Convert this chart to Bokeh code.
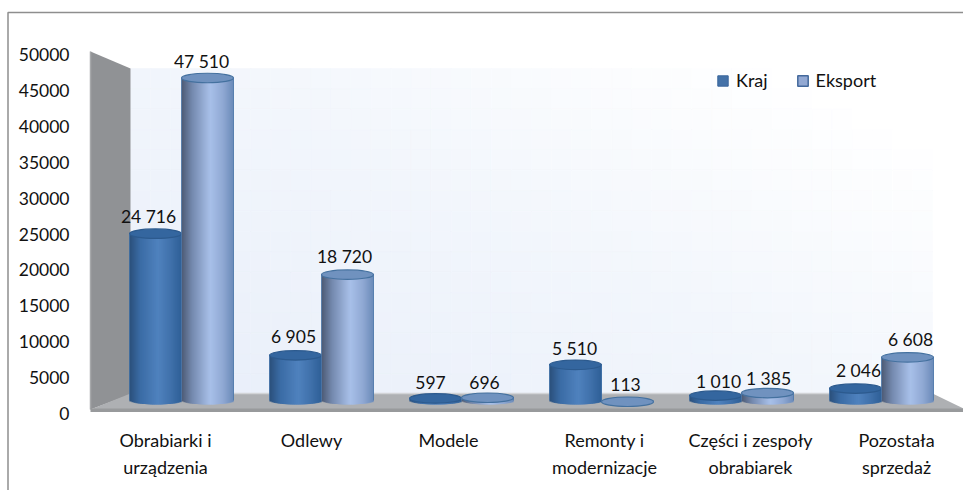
from bokeh.embed import file_html
from bokeh.resources import INLINE
from bokeh.plotting import figure
from bokeh.core.properties import value
from bokeh.models import (Range1d, LinearAxis, FixedTicker, Legend, LegendItem,
                          ColumnDataSource, BasicTickFormatter)

# ---- data ----
categories = ["Obrabiarki i\nurządzenia", "Odlewy", "Modele", "Remonty i\nmodernizacje",
              "Części i zespoły\nobrabiarek", "Pozostała\nsprzedaż"]
kraj = [24716, 6905, 597, 5510, 1010, 2046]
eksport = [47510, 18720, 696, 113, 1385, 6608]
kraj_labels = ["24 716", "6 905", "597", "5 510", "1 010", "2 046"]
eksport_labels = ["47 510", "18 720", "696", "113", "1 385", "6 608"]
y_ticks = list(range(0, 50001, 5000))

# ---- layout: page pixels ----
W, H = 963, 490
PX_L, PX_T = 0, 0
PX_R, PX_B = PX_L + W, PX_T + H
GROUP0, GROUP_STEP = 181.0, 140.0   # page x of the first group centre, group spacing
BAR_W_PX = 52.0
BASE_PX, BAR_SCALE = 402.0, 0.00683  # page y of value 0 for the columns, px per unit
AXIS0_PX, AXIS_SCALE = 413.0, 0.00718

label_x_px = [165, 311, 448, 604, 750, 896]
label_dx_k = [-7, -2, -5, -1, 3, 3]
label_dy_k = [-17, -19, -16, -16, -14, -18]
label_dx_e = [-6, -3, -3, -2, 1, 3]
label_dy_e = [-17, -18, -15, -17, -14.5, -18]

x_range = Range1d((PX_L - GROUP0) / GROUP_STEP, (PX_R - GROUP0) / GROUP_STEP)
y_range = Range1d((AXIS0_PX - PX_B) / AXIS_SCALE, (AXIS0_PX - PX_T) / AXIS_SCALE)

p = figure(width=W, height=H, x_range=x_range, y_range=y_range, x_axis_type=None, y_axis_type=None,
           output_backend="svg", toolbar_location=None, min_border=0,
           background_fill_color="white", border_fill_color="white", outline_line_color=None)
p.grid.visible = False
p.extra_y_ranges["bars"] = Range1d((BASE_PX - PX_B) / BAR_SCALE, (BASE_PX - PX_T) / BAR_SCALE)
p.extra_x_ranges["px"] = Range1d(PX_L, PX_R)
p.extra_y_ranges["px"] = Range1d(PX_B, PX_T)


def hexmix(c1, c2, t):
    a = [int(c1[i:i + 2], 16) for i in (1, 3, 5)]
    b = [int(c2[i:i + 2], 16) for i in (1, 3, 5)]
    return "#%02x%02x%02x" % tuple(round(a[i] + (b[i] - a[i]) * t) for i in range(3))


def ramp(stops, t):
    for (t0, c0), (t1, c1) in zip(stops, stops[1:]):
        if t <= t1:
            return hexmix(c0, c1, (t - t0) / (t1 - t0))
    return stops[-1][1]


# ---- chart frame chrome ----
PXR = dict(x_range_name="px", y_range_name="px")

# back wall, soft diagonal gradient
WALL_L, WALL_R, WALL_T, WALL_B = 130, 932, 68, 394
cols, rows = 40, 16
wl, wr, wb, wt, wc = [], [], [], [], []
for c in range(cols):
    for r in range(rows):
        u = (c + .5) / cols
        v = (r + .5) / rows
        t = min(1, max(0, 0.62 * u + 0.5 * (1 - v)))
        wl.append(WALL_L + (WALL_R - WALL_L) * c / cols)
        wr.append(WALL_L + (WALL_R - WALL_L) * (c + 1) / cols)
        wt.append(WALL_T + (WALL_B - WALL_T) * r / rows)
        wb.append(WALL_T + (WALL_B - WALL_T) * (r + 1) / rows)
        wc.append(ramp([(0, "#e8eef9"), (0.55, "#f2f6fc"), (1, "#ffffff")], t))
p.quad(left=wl, right=wr, top=wt, bottom=wb, fill_color=wc, line_color=wc, line_width=0.6, **PXR)

# left wall
p.patch([90, 130, 130, 90], [51, 68, 394, 409], fill_color="#909295", line_color=None, **PXR)
p.line([90, 90], [51, 409], line_color="#a6a8aa", line_width=1.5, **PXR)
# floor + front lip
p.patch([90, 130, 932, 963, 963, 90], [409, 393, 393, 408, 409, 409], fill_color="#aeb0b3", line_color=None, **PXR)
p.line([130, 932], [393, 393], line_color="#d2d4d7", line_width=1.5, **PXR)
p.quad(left=[90], right=[963], top=[408], bottom=[411.5], fill_color="#989a9c", line_color=None, **PXR)

# outer border of the chart area
p.line([7.5, 7.5, 963], [PX_B, 12, 12], line_color="#8e8e8e", line_width=1.5, **PXR)

# ---- columns ----
KRAJ_STOPS = [(0, "#2a4f7a"), (.2, "#3a6ba4"), (.55, "#4f82be"), (.8, "#3f70aa"), (1, "#2e5f96")]
EKSP_STOPS = [(0, "#4c5a74"), (.2, "#7388ad"), (.55, "#a8c0e9"), (.8, "#8fa8d3"), (1, "#6b8ab8")]
HALF = BAR_W_PX / GROUP_STEP / 2
N = 26
SIDE_PX, ARC_PX = 400.0, 4.0


def cylinders(vals, offset, stops, top_fill, top_line, edge):
    left, right, top, bottom, color = [], [], [], [], []
    for i, v in enumerate(vals):
        cx = i + offset
        for s in range(N):
            u0, u1 = s / N, min(1.0, (s + 2) / N)   # each strip runs under the next: no seams
            um = (s + .5) / N
            chord = max(0.0, 1 - (2 * um - 1) ** 2) ** .5
            left.append(cx - HALF + 2 * HALF * u0)
            right.append(cx - HALF + 2 * HALF * u1)
            top.append(v)
            bottom.append((BASE_PX - (SIDE_PX + ARC_PX * chord)) / BAR_SCALE)
            color.append(ramp(stops, um))
    p.quad(left=left, right=right, top=top, bottom=bottom, fill_color=color, line_color=None,
           y_range_name="bars")
    centers = [i + offset for i in range(len(vals))]
    p.ellipse(x=centers, y=vals, width=2 * HALF, height=9.5, height_units="screen",
              fill_color=top_fill, line_color=top_line, line_width=1.2, y_range_name="bars")
    for sgn in (-1, 1):
        p.segment(x0=[c + sgn * HALF for c in centers], x1=[c + sgn * HALF for c in centers],
                  y0=vals, y1=[(BASE_PX - SIDE_PX) / BAR_SCALE] * len(vals),
                  line_color=edge, line_width=1, line_alpha=.8, y_range_name="bars")


OFF = BAR_W_PX / GROUP_STEP / 2
cylinders(kraj, -OFF, KRAJ_STOPS, "#34669f", "#2c5a8e", "#3a6ba4")
cylinders(eksport, OFF, EKSP_STOPS, "#7092bf", "#44719f", "#4a76a8")

# ---- value labels ----
for vals, labs, off, dx, dy in ((kraj, kraj_labels, -OFF, label_dx_k, label_dy_k),
                                (eksport, eksport_labels, OFF, label_dx_e, label_dy_e)):
    src = ColumnDataSource(dict(x=[i + off for i in range(6)], y=vals, t=labs, dx=dx, dy=dy))
    p.text(x="x", y="y", text="t", x_offset="dx", y_offset="dy", source=src, text_align="center",
           text_baseline="middle", text_font=value("Lato"), text_font_size="17.5px", text_color="#111111",
           y_range_name="bars")

# ---- category labels ----
p.text(x=label_x_px, y=[428] * 6, text=categories, text_align="center", text_baseline="top",
       text_font=value("Lato"), text_font_size="18px", text_color="#111111", text_line_height=1.25, **PXR)

# ---- value axis, inside the full-bleed frame ----
axis = LinearAxis(ticker=FixedTicker(ticks=y_ticks), formatter=BasicTickFormatter(use_scientific=False),
                  axis_line_color=None, major_tick_line_color=None, minor_tick_line_color=None,
                  major_label_text_font="Lato", major_label_text_font_size="17.5px",
                  major_label_text_color="#111111", major_label_standoff=4,
                  fixed_location=(79 - GROUP0) / GROUP_STEP)
p.add_layout(axis, "left")

# ---- legend ----
nan = float("nan")
r_k = p.quad(left=[nan], right=[nan], top=[nan], bottom=[nan], fill_color="#4472a8", line_color="#3a669c", line_width=1)
r_e = p.quad(left=[nan], right=[nan], top=[nan], bottom=[nan], fill_color="#93a9d3", line_color="#44699c", line_width=1.5)
legend = Legend(items=[LegendItem(label="Kraj", renderers=[r_k]), LegendItem(label="Eksport", renderers=[r_e])],
                orientation="horizontal", location=(716, 399), background_fill_alpha=0, border_line_color=None,
                glyph_width=13, glyph_height=13, label_standoff=7, spacing=28, margin=0, padding=0,
                label_text_font="Lato", label_text_font_size="18px", label_text_color="#111111",
                label_height=16, label_width=10)
p.add_layout(legend)

open("out.html", "w").write(file_html(p, INLINE))
